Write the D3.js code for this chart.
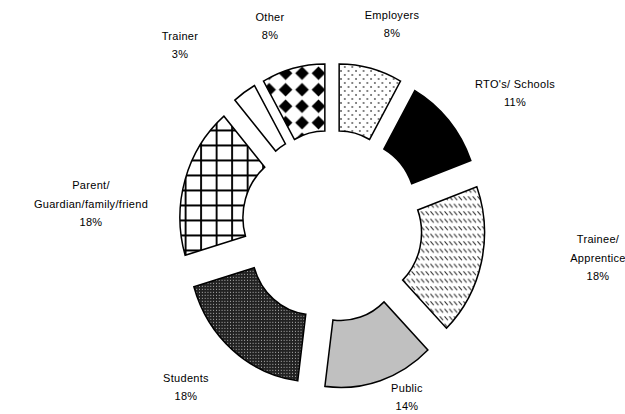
<!DOCTYPE html>
<html>
<head>
<meta charset="utf-8">
<script src="https://cdn.jsdelivr.net/npm/d3@7/dist/d3.min.js"></script>
<style>
  html, body { margin: 0; padding: 0; background: #fff; }
  svg { display: block; }
  text { font-family: "Liberation Sans", Arial, sans-serif; font-size: 11px; fill: #000; letter-spacing: 0.3px; }
</style>
</head>
<body>
<svg id="chart" width="625" height="414"></svg>
<script>
// Who the feedback came from (share of responses, %)
const categories = ["Employers", "RTO's/ Schools", "Trainee/ Apprentice", "Public", "Students",
                    "Parent/ Guardian/family/friend", "Trainer", "Other"];
const labelLines = [["Employers"], ["RTO's/ Schools"], ["Trainee/", "Apprentice"], ["Public"], ["Students"],
                    ["Parent/", "Guardian/family/friend"], ["Trainer"], ["Other"]];
const shares = [8, 11, 18, 14, 18, 18, 3, 8];

// Fill for each slice (pattern ids defined below)
const fills = ["url(#dots)", "#000", "url(#dashes)", "#c0c0c0", "url(#fine)", "url(#grid)", "#fff", "url(#diamonds)"];
// Where each label block is centred
const labelAt = [[392, 24], [515, 93], [598, 258], [407, 397], [186, 387], [91, 204], [180, 45], [270, 26]];

const cx = 332, cy = 226;
const rInner = 66, rOuter = 133, explode = 30;
const squeezeX = 0.94;   // ring is drawn slightly narrower than tall

const svg = d3.select("#chart");
const defs = svg.append("defs");

// sparse dots
let p = defs.append("pattern").attr("id", "dots").attr("patternUnits", "userSpaceOnUse")
  .attr("width", 8).attr("height", 8);
p.append("rect").attr("width", 8).attr("height", 8).attr("fill", "#fff");
p.append("circle").attr("cx", 2).attr("cy", 2).attr("r", 0.9).attr("fill", "#444");
p.append("circle").attr("cx", 6).attr("cy", 6).attr("r", 0.9).attr("fill", "#444");

// rows of short downward diagonal dashes
p = defs.append("pattern").attr("id", "dashes").attr("patternUnits", "userSpaceOnUse")
  .attr("width", 5).attr("height", 7.5);
p.append("rect").attr("width", 5).attr("height", 7.5).attr("fill", "#fff");
p.append("line").attr("x1", 0.8).attr("y1", 1.5).attr("x2", 3.6).attr("y2", 4.6)
  .attr("stroke", "#333").attr("stroke-width", 1.2).attr("stroke-linecap", "round");

// dense dark with white pinholes
p = defs.append("pattern").attr("id", "fine").attr("patternUnits", "userSpaceOnUse")
  .attr("width", 3).attr("height", 3);
p.append("rect").attr("width", 3).attr("height", 3).attr("fill", "#222");
p.append("rect").attr("x", 1).attr("y", 1).attr("width", 1).attr("height", 1).attr("fill", "#bbb");

// square grid
p = defs.append("pattern").attr("id", "grid").attr("patternUnits", "userSpaceOnUse")
  .attr("width", 16.5).attr("height", 15).attr("x", 4).attr("y", 2);
p.append("rect").attr("width", 16.5).attr("height", 15).attr("fill", "#fff");
p.append("line").attr("x1", 1).attr("x2", 1).attr("y1", 0).attr("y2", 15).attr("stroke", "#000").attr("stroke-width", 2);
p.append("line").attr("x1", 0).attr("x2", 16.5).attr("y1", 1).attr("y2", 1).attr("stroke", "#000").attr("stroke-width", 2);

// diamond checks
p = defs.append("pattern").attr("id", "diamonds").attr("patternUnits", "userSpaceOnUse")
  .attr("width", 17.5).attr("height", 16.5).attr("x", 2).attr("y", 0);
p.append("rect").attr("width", 17.5).attr("height", 16.5).attr("fill", "#fff");
p.append("path").attr("d", "M8.75,1.5 L16,8.25 L8.75,15 L1.5,8.25 Z").attr("fill", "#000");

const pie = d3.pie().sort(null).value(d => d).startAngle(0).endAngle(2 * Math.PI);
const arcs = pie(shares);
const arc = d3.arc().innerRadius(rInner).outerRadius(rOuter);

const g = svg.append("g").attr("transform", `translate(${cx},${cy}) scale(${squeezeX},1)`);

g.selectAll("path.slice")
  .data(arcs)
  .join("path")
  .attr("class", "slice")
  .attr("d", arc)
  .attr("fill", (d, i) => fills[i])
  .attr("stroke", "#000")
  .attr("stroke-width", 1.6)
  .attr("stroke-linejoin", "miter")
  .attr("transform", d => {
    const a = (d.startAngle + d.endAngle) / 2;
    return `translate(${explode * Math.sin(a)},${-explode * Math.cos(a)})`;
  });

// Labels: category lines then percentage
const lineH = 18.5;
arcs.forEach((d, i) => {
  const lines = labelLines[i].concat([shares[i] + "%"]);
  const [lx, ly] = labelAt[i];
  const top = ly - (lines.length - 1) * lineH / 2;
  const t = svg.append("text").attr("text-anchor", "middle");
  lines.forEach((s, k) => {
    t.append("tspan").attr("x", lx).attr("y", top + k * lineH).attr("dy", "0.35em").text(s);
  });
});
</script>
</body>
</html>
